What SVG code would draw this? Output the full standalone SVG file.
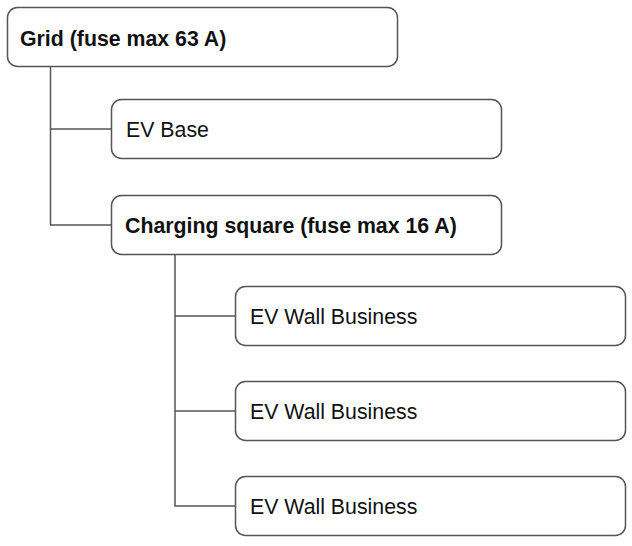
<svg xmlns="http://www.w3.org/2000/svg" width="632" height="546" viewBox="0 0 632 546">
<style>
.box{fill:#ffffff;stroke:#555555;stroke-width:1.5}
.lbl{font-family:"Liberation Sans",Arial,sans-serif;font-size:21.3px;fill:#111111}
.b{font-weight:bold}
.conn{fill:none;stroke:#555555;stroke-width:1.5}
</style>
<rect width="632" height="546" fill="#ffffff"/>
<g id="connectors">
<path class="conn" d="M50.5 67 V225 H111.5 M50.5 129 H111.5"/>
<path class="conn" d="M175 254 V506 H235.5 M175 316 H235.5 M175 411 H235.5"/>
</g>
<g id="grid">
<rect class="box" x="7.5" y="7.5" width="390" height="59" rx="10"/>
<text class="lbl b" x="20" y="45.5">Grid (fuse max 63 A)</text>
</g>
<g id="evbase">
<rect class="box" x="111.5" y="99.5" width="390" height="59" rx="10"/>
<text class="lbl" x="126" y="136.5">EV Base</text>
</g>
<g id="charging">
<rect class="box" x="111.5" y="195.5" width="390" height="59" rx="10"/>
<text class="lbl b" x="125" y="232.5">Charging square (fuse max 16 A)</text>
</g>
<g id="wall1">
<rect class="box" x="235.5" y="286.5" width="390" height="59" rx="10"/>
<text class="lbl" x="250" y="324">EV Wall Business</text>
</g>
<g id="wall2">
<rect class="box" x="235.5" y="381.5" width="390" height="59" rx="10"/>
<text class="lbl" x="250" y="419">EV Wall Business</text>
</g>
<g id="wall3">
<rect class="box" x="235.5" y="476.5" width="390" height="59" rx="10"/>
<text class="lbl" x="250" y="514">EV Wall Business</text>
</g>
</svg>
